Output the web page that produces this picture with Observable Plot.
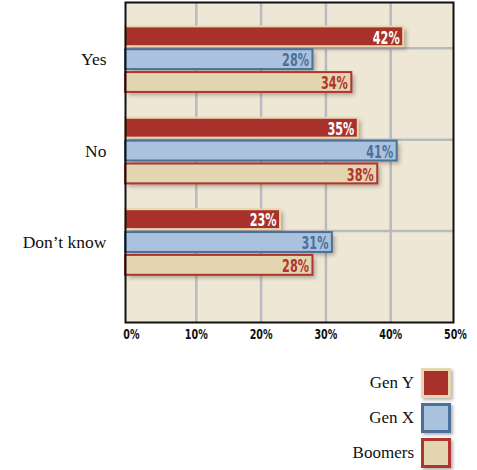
<!DOCTYPE html>
<html>
<head>
<meta charset="utf-8">
<script src="https://cdn.jsdelivr.net/npm/d3@7"></script>
<script src="https://cdn.jsdelivr.net/npm/@observablehq/plot@0.6"></script>
<style>
  body { margin: 0; background: #fff; }
  #chart svg { display: block; }
  #chart g[font-family*="Condensed"] { font-stretch: condensed; }
  .legend { display: flex; flex-direction: column; align-items: flex-end; padding-right: 26px; margin-top: 13px; }
  .legend .item { display: flex; align-items: center; gap: 7px; height: 30px; margin-bottom: 5px; }
  .legend .label { font-family: "Liberation Serif", serif; font-size: 17px; color: #111; }
  .legend .swatch { width: 30px; height: 30px; box-sizing: border-box; border: 3px solid; box-shadow: 2px 2px 3px rgba(0,0,0,0.3); }
</style>
</head>
<body>
<div id="chart"></div>
<div class="legend" id="legend"></div>
<script>
// Survey answers by generation (percent of respondents)
const categories = ["Yes", "No", "Don’t know"];
const series = ["Gen Y", "Gen X", "Boomers"];
const genY = [42, 35, 23];
const genX = [28, 41, 31];
const boomers = [34, 38, 28];
const xTicks = [0, 10, 20, 30, 40, 50];

const seriesValues = {"Gen Y": genY, "Gen X": genX, "Boomers": boomers};

// Bar styling per generation
const look = {
  "Gen Y":   {fill: "#a9312b", stroke: "#e8d6ad", text: "#ffffff"},
  "Gen X":   {fill: "#abc2df", stroke: "#4c7099", text: "#4c7099"},
  "Boomers": {fill: "#e3d5b0", stroke: "#b2342e", text: "#b2342e"}
};

// Each answer takes four rows: one per generation plus a spacer row above
const rowsPerGroup = series.length + 1;
const rows = categories.flatMap((cat, ci) =>
  series.map((s, si) => ({
    category: cat,
    series: s,
    value: seriesValues[s][ci],
    row: ci * rowsPerGroup + si + 1
  }))
);
const totalRows = categories.length * rowsPerGroup + 2;
const gridRows = categories.map((c, ci) => ci * rowsPerGroup + 2);
const labelRows = categories.map((c, ci) => ci * rowsPerGroup + 2.5);

const bg = "#efe7d6";
const gridColor = "#b9babe";
const narrow = "'DejaVu Sans Condensed', 'Liberation Sans Narrow', sans-serif";

const barMarks = series.flatMap(s => {
  const data = rows.filter(d => d.series === s);
  return [
    Plot.rectX(data, {
      x1: 0, x2: "value", y1: "row", y2: d => d.row + 1,
      insetTop: 1.5, insetBottom: 1.5, insetLeft: -6,
      fill: look[s].fill, stroke: look[s].stroke, strokeWidth: 2
    }),
    Plot.text(data, {
      x: "value", y: d => d.row + 0.5, text: d => `${d.value}%`,
      textAnchor: "end", dx: -4, dy: 1,
      fill: look[s].text, fontFamily: narrow, fontWeight: "bold", fontSize: 16
    })
  ];
});

const chart = Plot.plot({
  width: 477,
  height: 355,
  marginLeft: 131,
  marginRight: 22,
  marginTop: 2,
  marginBottom: 33,
  style: {background: "#fff", color: "#111"},
  x: {domain: [0, 50]},
  y: {domain: [0, totalRows], reverse: true},
  marks: [
    Plot.frame({fill: bg, stroke: null, insetLeft: -6, insetRight: 2}),
    Plot.ruleX(xTicks.slice(1, -1), {stroke: gridColor, strokeWidth: 2.5}),
    Plot.ruleY(gridRows, {stroke: gridColor, strokeWidth: 2.5, insetLeft: -6, insetRight: 2}),
    // soft drop shadows under the bars
    Plot.rectX(rows, {
      x1: 0, x2: "value", y1: "row", y2: d => d.row + 1,
      insetTop: 1.5, insetBottom: 1.5, insetLeft: -6,
      dx: 3, dy: 3, fill: "#4a4030", fillOpacity: 0.4
    }),
    ...barMarks,
    Plot.frame({stroke: "#111", strokeWidth: 2, insetLeft: -6, insetRight: 2}),
    Plot.axisX({
      ticks: xTicks, tickFormat: d => `${d}%`, tickSize: 0, tickPadding: 7,
      fontFamily: narrow, fontWeight: "bold", fontSize: 13, label: null
    }),
    Plot.axisY({
      ticks: labelRows, tickFormat: d => categories[Math.round((d - 2.5) / rowsPerGroup)],
      tickSize: 0, tickPadding: 25, fontFamily: "'Liberation Serif', serif", fontSize: 17.5, label: null
    })
  ]
});

// blur the shadow layer
const rectGroups = chart.querySelectorAll('g[aria-label="rect"]');
if (rectGroups.length) rectGroups[0].style.filter = "blur(2px)";

// squeeze the condensed labels into a tall, narrow poster face
chart.querySelectorAll('g[font-family*="Condensed"] text').forEach(t => {
  const isTick = t.closest('g[aria-label="x-axis tick label"]');
  const tr = t.getAttribute("transform") || "";
  t.setAttribute("transform", `${tr} scale(${isTick ? "0.82,1.05" : "0.78,1.12"})`);
});

document.getElementById("chart").append(chart);

// legend below the chart
const legend = d3.select("#legend");
for (const s of series) {
  const item = legend.append("div").attr("class", "item");
  item.append("span").attr("class", "label").text(s);
  item.append("span").attr("class", "swatch")
    .style("background", look[s].fill)
    .style("border-color", look[s].stroke);
}
</script>
</body>
</html>
